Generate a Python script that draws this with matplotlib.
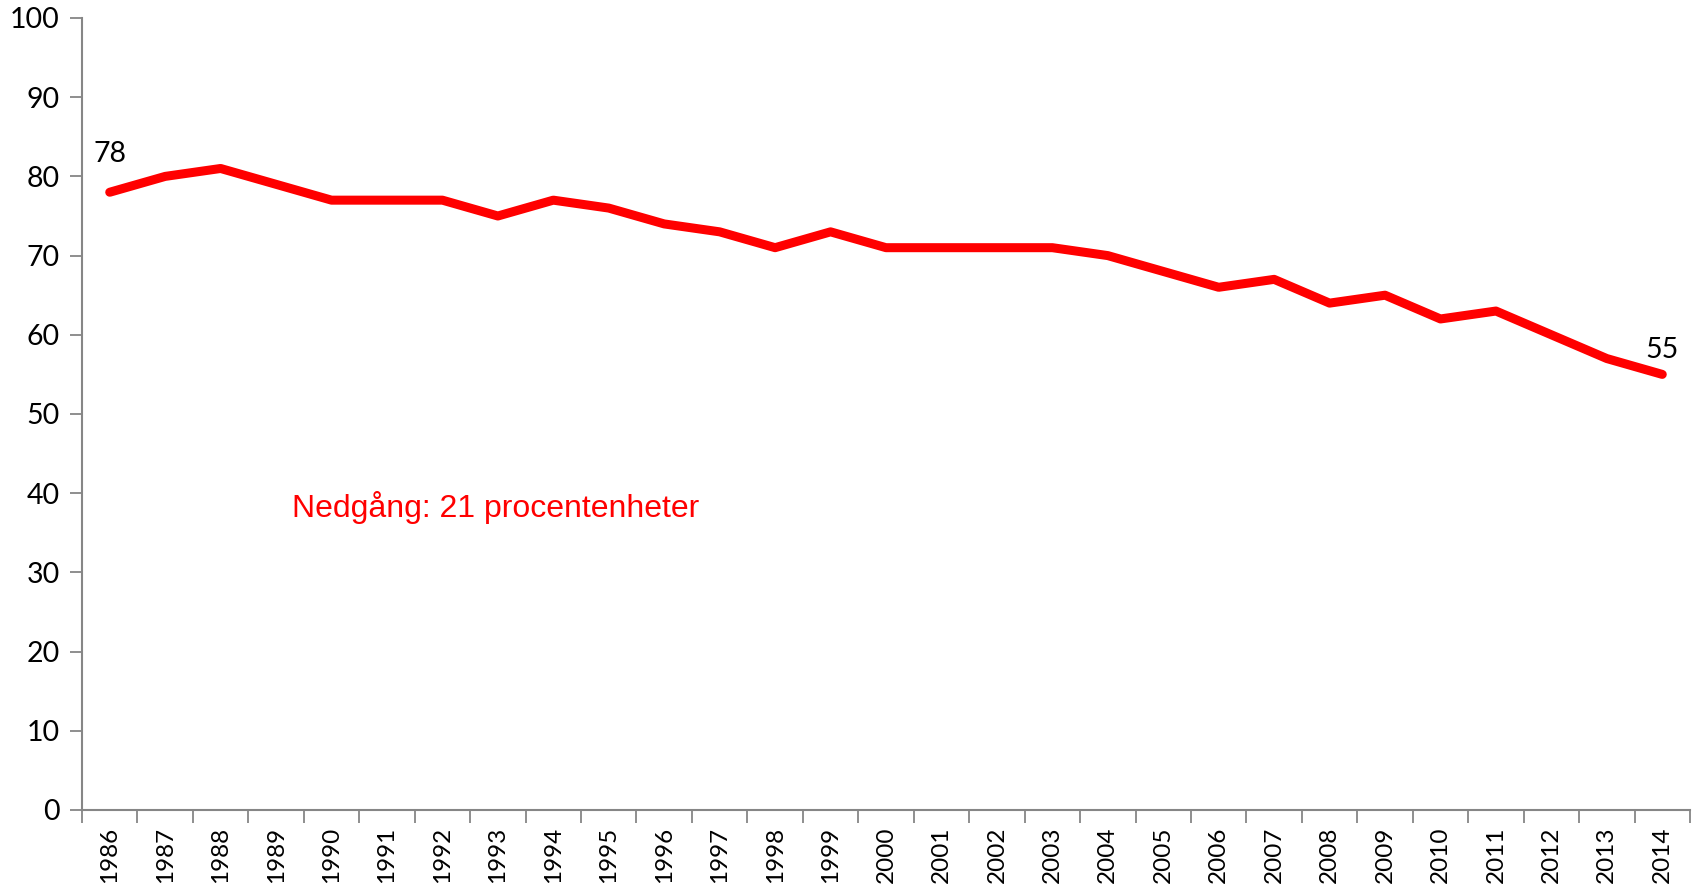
import matplotlib
matplotlib.use("Agg")
import matplotlib.pyplot as plt
import numpy as np

years = [str(y) for y in range(1986, 2015)]
values = [78, 80, 81, 79, 77, 77, 77, 75, 77, 76, 74, 73, 71, 73, 71,
          71, 71, 71, 70, 68, 66, 67, 64, 65, 62, 63, 60, 57, 55]
y_ticks = [0, 10, 20, 30, 40, 50, 60, 70, 80, 90, 100]
note = "Nedgång: 21 procentenheter"

fig = plt.figure(figsize=(16.96, 8.89), dpi=100)
ax = fig.add_axes([82/1696, 1-810/889, (1690-82)/1696, (810-18)/889])

x = np.arange(len(values)) + 0.5
ax.plot(x, values, color="#FF0000", lw=6.5, solid_capstyle="round", solid_joinstyle="round")

ax.set_xlim(0, len(values))
ax.set_ylim(0, 100)
ax.set_yticks(y_ticks)
tickfont = "Lato"
fs = 20.5
ax.set_yticklabels([str(v) for v in y_ticks], fontsize=fs, family=tickfont)

ax.set_xticks(np.arange(len(values) + 1))
ax.set_xticklabels([])
ax.set_xticks(x, minor=True)
ax.set_xticklabels(years, minor=True, rotation=90, fontsize=17.5, family=tickfont)
ax.tick_params(axis="x", which="minor", length=0, pad=12)
ax.tick_params(axis="x", which="major", length=9, width=1.3, color="#868686", direction="out")
ax.tick_params(axis="y", length=9, width=1.3, color="#868686", direction="out", pad=7)

for s in ["top", "right"]:
    ax.spines[s].set_visible(False)
for s in ["left", "bottom"]:
    ax.spines[s].set_color("#868686")
    ax.spines[s].set_linewidth(1.5)

ax.annotate(str(values[0]), (x[0], values[0]), xytext=(0, 18), textcoords="offset points",
            ha="center", va="bottom", fontsize=fs, family=tickfont)
ax.annotate(str(values[-1]), (x[-1], values[-1]), xytext=(0, 8), textcoords="offset points",
            ha="center", va="bottom", fontsize=fs, family=tickfont)

ax.text(3.79, 38.2, note, color="#FF0000", fontsize=23, family="Liberation Sans",
        ha="left", va="center")

fig.savefig("out.png", dpi=100)
